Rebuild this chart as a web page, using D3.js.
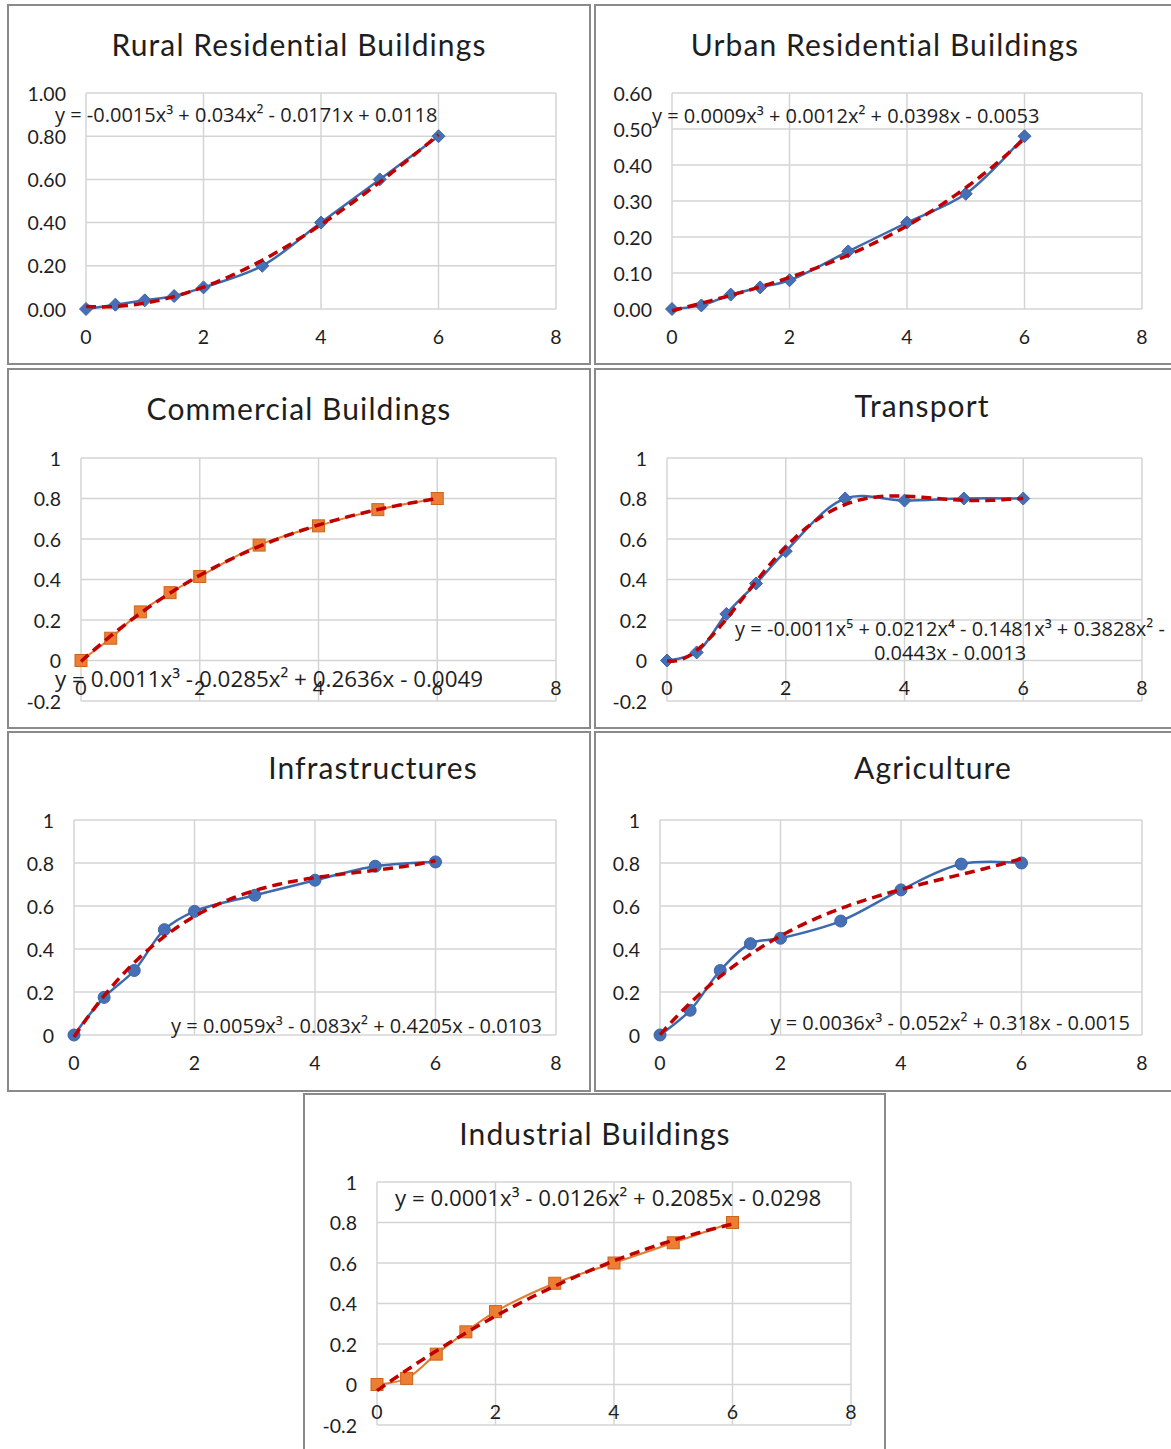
<!DOCTYPE html>
<html>
<head>
<meta charset="utf-8">
<script src="https://cdn.jsdelivr.net/npm/d3@7/dist/d3.min.js"></script>
<style>
  html, body { margin: 0; padding: 0; background: #fff; }
  svg { display: block; }
  text { font-family: Lato, "Open Sans", sans-serif; fill: #1e1e1e; }
  .eq { font-family: "Open Sans", Lato, sans-serif; }
</style>
</head>
<body>
<svg id="chart" width="1171" height="1449"></svg>
<script>
// ---------- DATA ----------
const xValues = [0, 0.5, 1, 1.5, 2, 3, 4, 5, 6];
const ruralValues = [0, 0.02, 0.04, 0.06, 0.10, 0.20, 0.40, 0.60, 0.80];
const urbanValues = [0, 0.01, 0.04, 0.06, 0.08, 0.16, 0.24, 0.32, 0.48];
const commercialValues = [0, 0.11, 0.24, 0.335, 0.415, 0.57, 0.665, 0.745, 0.80];
const transportValues = [0, 0.04, 0.23, 0.38, 0.54, 0.80, 0.79, 0.80, 0.80];
const infrastructureValues = [0, 0.175, 0.30, 0.49, 0.575, 0.65, 0.72, 0.785, 0.805];
const agricultureValues = [0, 0.115, 0.30, 0.425, 0.45, 0.53, 0.675, 0.795, 0.80];
const industrialValues = [0, 0.03, 0.15, 0.26, 0.36, 0.50, 0.60, 0.70, 0.80];

const titles = ["Rural Residential Buildings", "Urban Residential Buildings", "Commercial Buildings",
  "Transport", "Infrastructures", "Agriculture", "Industrial Buildings"];
const equations = [
  ["y = -0.0015x³ + 0.034x² - 0.0171x + 0.0118"],
  ["y = 0.0009x³ + 0.0012x² + 0.0398x - 0.0053"],
  ["y = 0.0011x³ - 0.0285x² + 0.2636x - 0.0049"],
  ["y = -0.0011x⁵ + 0.0212x⁴ - 0.1481x³ + 0.3828x² -", "0.0443x - 0.0013"],
  ["y = 0.0059x³ - 0.083x² + 0.4205x - 0.0103"],
  ["y = 0.0036x³ - 0.052x² + 0.318x - 0.0015"],
  ["y = 0.0001x³ - 0.0126x² + 0.2085x - 0.0298"]
];
const trendOrders = [3, 3, 3, 5, 3, 3, 3];
const xTicks = [0, 2, 4, 6, 8];
const yTicksA = [0, 0.2, 0.4, 0.6, 0.8, 1.0];
const yTicksB = [0, 0.1, 0.2, 0.3, 0.4, 0.5, 0.6];
const yTicksC = [-0.2, 0, 0.2, 0.4, 0.6, 0.8, 1];
const seriesValues = [ruralValues, urbanValues, commercialValues, transportValues,
  infrastructureValues, agricultureValues, industrialValues];

// ---------- LAYOUT / STYLE ----------
const BLUE = "#3d69ad", BLUE_M = "#4670b6", ORANGE = "#e37b2f", ORANGE_M = "#ec7d33", ORANGE_S = "#c8661f";
const layout = [
  {box:[8,5,582,359], tXY:[299,44], plot:[86,93,556,309], yDom:[0,1], yT:yTicksA, dec:2, marker:"diamond", color:"blue", eqXY:[55,114], anchor:"start", eqSize:20},
  {box:[595,5,600,359], tXY:[885,44], plot:[672,93,1142,309], yDom:[0,0.6], yT:yTicksB, dec:2, marker:"diamond", color:"blue", eqXY:[652,115], anchor:"start", eqSize:20},
  {box:[8,369,582,359], tXY:[299,408], plot:[81,458,556,701], yDom:[-0.2,1], yT:yTicksC, dec:1, marker:"square", color:"orange", eqXY:[55,678], anchor:"start", eqSize:22.4},
  {box:[595,369,600,359], tXY:[922,405], plot:[667,458,1142,701], yDom:[-0.2,1], yT:yTicksC, dec:1, marker:"diamond", color:"blue", eqXY:[950,628], anchor:"middle", eqSize:20},
  {box:[8,732,582,359], tXY:[373,767], plot:[74,820,556,1035], yDom:[0,1], yT:yTicksA, dec:1, marker:"circle", color:"blue", eqXY:[542,1025], anchor:"end", eqSize:20},
  {box:[595,732,600,359], tXY:[933,767], plot:[660,820,1142,1035], yDom:[0,1], yT:yTicksA, dec:1, marker:"circle", color:"blue", eqXY:[1130,1022], anchor:"end", eqSize:20},
  {box:[304,1094,581,380], tXY:[595,1133], plot:[377,1182,851,1425], yDom:[-0.2,1], yT:yTicksC, dec:1, marker:"square", color:"orange", eqXY:[395,1197], anchor:"start", eqSize:22.3}
];

// least-squares polynomial fit (what the chart's trendline is)
function polyfit(xs, ys, order) {
  const s = 6, n = order + 1;
  const M = Array.from({length:n}, () => new Array(n + 1).fill(0));
  xs.forEach((x, k) => {
    const t = x / s;
    for (let i = 0; i < n; i++) {
      for (let j = 0; j < n; j++) M[i][j] += Math.pow(t, i + j);
      M[i][n] += Math.pow(t, i) * ys[k];
    }
  });
  for (let c = 0; c < n; c++) {
    let p = c;
    for (let r = c + 1; r < n; r++) if (Math.abs(M[r][c]) > Math.abs(M[p][c])) p = r;
    [M[c], M[p]] = [M[p], M[c]];
    for (let r = 0; r < n; r++) {
      if (r === c) continue;
      const f = M[r][c] / M[c][c];
      for (let k = c; k <= n; k++) M[r][k] -= f * M[c][k];
    }
  }
  const coef = M.map((row, i) => row[n] / row[i]);
  return x => coef.reduce((acc, a, i) => acc + a * Math.pow(x / s, i), 0);
}

const svg = d3.select("#chart");

layout.forEach((L, idx) => {
  const vals = seriesValues[idx];
  const g = svg.append("g");
  // panel frame
  g.append("rect").attr("x", L.box[0]).attr("y", L.box[1]).attr("width", L.box[2]).attr("height", L.box[3])
    .attr("fill", "#fff").attr("stroke", "#8a8a8a").attr("stroke-width", 2);
  // title
  g.append("text").attr("x", L.tXY[0]).attr("y", L.tXY[1]).attr("text-anchor", "middle")
    .attr("dominant-baseline", "central").attr("font-size", 30).attr("letter-spacing", 1.1)
    .text(titles[idx]);

  const x = d3.scaleLinear().domain([0, 8]).range([L.plot[0], L.plot[2]]);
  const y = d3.scaleLinear().domain(L.yDom).range([L.plot[3], L.plot[1]]);

  // gridlines
  g.append("g").selectAll("line.h").data(L.yT).join("line")
    .attr("x1", x(0)).attr("x2", x(8)).attr("y1", d => y(d)).attr("y2", d => y(d))
    .attr("stroke", "#d4d4d4").attr("stroke-width", 1.5);
  g.append("g").selectAll("line.v").data(xTicks).join("line")
    .attr("x1", d => x(d)).attr("x2", d => x(d)).attr("y1", y(L.yDom[0])).attr("y2", y(L.yDom[1]))
    .attr("stroke", "#d4d4d4").attr("stroke-width", 1.5);

  // y tick labels
  g.append("g").selectAll("text").data(L.yT).join("text")
    .attr("x", L.plot[0] - 20).attr("y", d => y(d)).attr("text-anchor", "end")
    .attr("dominant-baseline", "central").attr("font-size", 19.5)
    .text(d => L.dec === 2 ? d.toFixed(2) : String(+d.toFixed(1)));
  // x tick labels (at the horizontal axis crossing y = 0)
  g.append("g").selectAll("text").data(xTicks).join("text")
    .attr("x", d => x(d)).attr("y", y(0) + 27).attr("text-anchor", "middle")
    .attr("dominant-baseline", "central").attr("font-size", 19.5).text(d => d);

  const pts = xValues.map((xv, i) => [xv, vals[i]]);
  const lineColor = L.color === "blue" ? BLUE : ORANGE;
  const line = d3.line().x(d => x(d[0])).y(d => y(d[1])).curve(d3.curveCatmullRom.alpha(0.5));
  g.append("path").attr("d", line(pts)).attr("fill", "none").attr("stroke", lineColor)
    .attr("stroke-width", L.color === "blue" ? 2.5 : 2);

  // markers
  const mk = g.append("g").selectAll("g").data(pts).join("g")
    .attr("transform", d => `translate(${x(d[0])},${y(d[1])})`);
  if (L.marker === "diamond") {
    mk.append("path").attr("d", "M0,-6.5L6.5,0L0,6.5L-6.5,0Z").attr("fill", BLUE_M).attr("stroke", "#3b64a6").attr("stroke-width", 1);
  } else if (L.marker === "circle") {
    mk.append("circle").attr("r", 6).attr("fill", BLUE_M).attr("stroke", "#3b64a6").attr("stroke-width", 1);
  } else {
    mk.append("rect").attr("x", -6).attr("y", -6).attr("width", 12).attr("height", 12)
      .attr("fill", ORANGE_M).attr("stroke", ORANGE_S).attr("stroke-width", 1);
  }

  // polynomial trendline
  const f = polyfit(xValues, vals, trendOrders[idx]);
  const tr = d3.range(0, 6.0001, 0.05).map(v => [v, f(v)]);
  g.append("path").attr("d", d3.line().x(d => x(d[0])).y(d => y(d[1]))(tr))
    .attr("fill", "none").attr("stroke", "#c00000").attr("stroke-width", 3.5)
    .attr("stroke-dasharray", "10,6");

  // equation label
  const eq = g.append("text").attr("class", "eq").attr("text-anchor", L.anchor).attr("font-size", L.eqSize);
  equations[idx].forEach((s, k) => {
    eq.append("tspan").attr("x", L.eqXY[0]).attr("y", L.eqXY[1] + k * 24)
      .attr("dominant-baseline", "central").text(s);
  });
});
</script>
</body>
</html>
